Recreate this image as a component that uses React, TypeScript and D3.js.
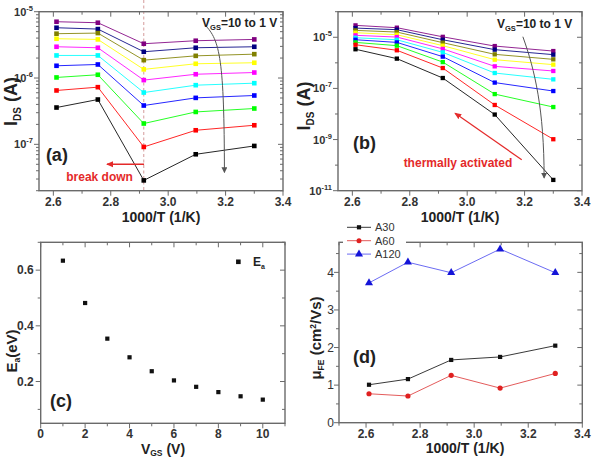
import React from 'react';
import * as d3 from 'd3';

const FONT = '"Liberation Sans", Arial, Helvetica, sans-serif';
const AX = '#6a6a6a';
const TXT = '#222';
const RED = '#e42a2a';

// shared x values: 1000/T (1/K)
const invTemp = [2.611, 2.755, 2.915, 3.096, 3.3];
// V_GS series, 10 V to 1 V
const vgsNames = ['10', '9', '8', '7', '6', '5', '4', '3', '2', '1'];
const vgsColors = ['#800080', '#000080', '#808000', '#ffff00', '#ff00ff', '#00ffff', '#0000ff', '#00ff00', '#ff0000', '#000000'];

// panel (a) I_DS (A)
const aV10 = [7.06e-6, 6.82e-6, 3.29e-6, 3.65e-6, 3.82e-6];
const aV9 = [5.73e-6, 5.47e-6, 2.49e-6, 2.86e-6, 2.96e-6];
const aV8 = [4.66e-6, 4.76e-6, 1.86e-6, 2.16e-6, 2.29e-6];
const aV7 = [3.91e-6, 3.82e-6, 1.35e-6, 1.64e-6, 1.7e-6];
const aV6 = [2.96e-6, 2.86e-6, 9.3e-7, 1.14e-6, 1.21e-6];
const aV5 = [2.19e-6, 2.19e-6, 6.04e-7, 7.8e-7, 8.36e-7];
const aV4 = [1.53e-6, 1.6e-6, 3.85e-7, 5.02e-7, 5.45e-7];
const aV3 = [1.02e-6, 1.12e-6, 2.06e-7, 3.08e-7, 3.47e-7];
const aV2 = [6.49e-7, 7.28e-7, 9.14e-8, 1.63e-7, 1.94e-7];
const aV1 = [3.59e-7, 4.74e-7, 2.86e-8, 7.08e-8, 9.46e-8];
const panelA = [aV10, aV9, aV8, aV7, aV6, aV5, aV4, aV3, aV2, aV1];

// panel (b) I_DS (A)
const bV10 = [2.92e-5, 2.37e-5, 1.04e-5, 4.53e-6, 2.89e-6];
const bV9 = [2.29e-5, 1.98e-5, 8.0e-6, 3.28e-6, 2.09e-6];
const bV8 = [1.86e-5, 1.6e-5, 6.15e-6, 2.15e-6, 1.37e-6];
const bV7 = [1.51e-5, 1.26e-5, 4.7e-6, 1.33e-6, 8.5e-7];
const bV6 = [1.19e-5, 1.02e-5, 3.52e-6, 7.3e-7, 4.8e-7];
const bV5 = [9.6e-6, 8.0e-6, 2.57e-6, 4.0e-7, 2.26e-7];
const bV4 = [8.0e-6, 6.3e-6, 1.75e-6, 1.69e-7, 7.9e-8];
const bV3 = [6.3e-6, 4.7e-6, 1.07e-6, 6.0e-8, 1.87e-8];
const bV2 = [5.1e-6, 3.1e-6, 6.27e-7, 2.25e-8, 1.03e-9];
const bV1 = [3.4e-6, 1.46e-6, 2.55e-7, 9.5e-9, 2.64e-11];
const panelB = [bV10, bV9, bV8, bV7, bV6, bV5, bV4, bV3, bV2, bV1];

// panel (c)
const vgsValues = [1, 2, 3, 4, 5, 6, 7, 8, 9, 10];
const eaValues = [0.634, 0.482, 0.354, 0.287, 0.237, 0.204, 0.181, 0.162, 0.147, 0.135];

// panel (d)
const deviceNames = ['A30', 'A60', 'A120'];
const muA30 = [1.01, 1.16, 1.67, 1.75, 2.05];
const muA60 = [0.77, 0.71, 1.26, 0.92, 1.31];
const muA120 = [3.72, 4.27, 3.99, 4.62, 3.99];

// scales
const xa = d3.scaleLinear().domain([2.55, 3.4]).range([39, 283]);
const ya = d3.scaleLog().domain([2e-8, 1e-5]).range([190.7, 11.7]);
const xb = d3.scaleLinear().domain([2.55, 3.4]).range([338, 582]);
const yb = d3.scaleLog().domain([1e-11, 1e-4]).range([190.7, 11.7]);
const xc = d3.scaleLinear().domain([0, 11]).range([40.7, 285]);
const yc = d3.scaleLinear().domain([0.05, 0.7]).range([423.3, 242.3]);
const xd = d3.scaleLinear().domain([2.5, 3.4]).range([339, 582.3]);
const yd = d3.scaleLinear().domain([0, 4.8]).range([422.7, 242.3]);

const tTicks = [2.6, 2.8, 3.0, 3.2, 3.4];
const tMinor = [2.7, 2.9, 3.1, 3.3];

function logMinor(lo: number, hi: number) {
  const out: number[] = [];
  for (let d = lo; d < hi; d++) for (let k = 2; k <= 9; k++) out.push(k * Math.pow(10, d));
  return out;
}

const logLabel = (v: number) => (
  <>
    10<tspan dy={-5} fontSize={7.5}>{Math.round(Math.log10(v))}</tspan>
  </>
);

type FrameProps = {
  x: any; y: any;
  xMajor: number[]; xMinor: number[];
  yMajor: number[]; yMinor: number[];
  xFmt: (v: number) => string;
  yLabelValues: number[];
  yFmt: (v: number) => React.ReactNode;
  ySize: number; yBold: boolean; yGap: number;
};

function Frame(p: FrameProps) {
  const [l, r] = p.x.range();
  const [b, t] = p.y.range();
  const M = 5, m = 3;
  const els: React.ReactNode[] = [];
  p.xMajor.forEach((v, i) => {
    const px = p.x(v);
    els.push(<line key={'xb' + i} x1={px} x2={px} y1={b} y2={b + M} />);
    els.push(<line key={'xt' + i} x1={px} x2={px} y1={t} y2={t + M} />);
  });
  p.xMinor.forEach((v, i) => {
    const px = p.x(v);
    els.push(<line key={'xbm' + i} x1={px} x2={px} y1={b} y2={b + m} />);
    els.push(<line key={'xtm' + i} x1={px} x2={px} y1={t} y2={t + m} />);
  });
  p.yMajor.forEach((v, i) => {
    const py = p.y(v);
    els.push(<line key={'yl' + i} x1={l - M} x2={l} y1={py} y2={py} />);
    els.push(<line key={'yr' + i} x1={r - M} x2={r} y1={py} y2={py} />);
  });
  p.yMinor.forEach((v, i) => {
    const py = p.y(v);
    els.push(<line key={'ylm' + i} x1={l - m} x2={l} y1={py} y2={py} />);
    els.push(<line key={'yrm' + i} x1={r - m} x2={r} y1={py} y2={py} />);
  });
  return (
    <g>
      <g stroke={AX} strokeWidth={1}>{els}</g>
      <rect x={l} y={t} width={r - l} height={b - t} fill="none" stroke={AX} strokeWidth={1.4} />
      <g fontFamily={FONT} fontSize={12} fontWeight="bold" fill="#333" textAnchor="middle">
        {p.xMajor.map((v, i) => (
          <text key={i} x={p.x(v)} y={b + 15}>{p.xFmt(v)}</text>
        ))}
      </g>
      <g fontFamily={FONT} fontSize={p.ySize} fontWeight={p.yBold ? 'bold' : 'normal'} fill="#333" textAnchor="end">
        {p.yLabelValues.map((v, i) => (
          <text key={i} x={l - p.yGap} y={p.y(v) + p.ySize * 0.36}>{p.yFmt(v)}</text>
        ))}
      </g>
    </g>
  );
}

function Squares({ xs, ys, x, y, color, size }: any) {
  return (
    <g fill={color}>
      {ys.map((v: number, i: number) => (
        <rect key={i} x={x(xs[i]) - size / 2} y={y(v) - size / 2} width={size} height={size} />
      ))}
    </g>
  );
}

function Curve({ ys, x, y, color, width = 1, opacity = 0.85 }: any) {
  const gen = d3.line<number>().x((_, i) => x(invTemp[i])).y((v) => y(v));
  return <path d={gen(ys) || ''} fill="none" stroke={color} strokeWidth={width} strokeOpacity={opacity} />;
}

function bezier(x: any, y: any, pts: number[][]) {
  const p = d3.path();
  p.moveTo(x(pts[0][0]), y(pts[0][1]));
  p.bezierCurveTo(x(pts[1][0]), y(pts[1][1]), x(pts[2][0]), y(pts[2][1]), x(pts[3][0]), y(pts[3][1]));
  return p.toString();
}

// annotation anchor points (data coordinates)
const arrowA = [[3.128, 6.3e-6], [3.181, 3.74e-6], [3.195, 1.86e-6], [3.196, 3.8e-8]];
const arrowB = [[3.194, 1.05e-5], [3.236, 5.3e-7], [3.268, 1.45e-8], [3.268, 3.2e-11]];
const breakArrow = [[2.916, 5.0e-8], [2.787, 5.0e-8]];
const thermalArrow = [[3.19, 1.62e-10], [2.958, 1.07e-8]];

export default function App() {
  const sq = 4.6;
  const tri = d3.symbol(d3.symbolTriangle).size(28)();
  return (
    <svg width={594} height={458} style={{ position: 'absolute', left: 0, top: 0, background: '#fff' }}>
      <defs>
        <marker id="ahg" markerUnits="userSpaceOnUse" markerWidth={6} markerHeight={6} refX={5} refY={3} orient="auto">
          <path d="M0,0 L6,3 L0,6 z" fill="#555" />
        </marker>
        <marker id="ahr" markerUnits="userSpaceOnUse" markerWidth={7} markerHeight={7} refX={6} refY={3.5} orient="auto">
          <path d="M0,0.5 L7,3.5 L0,6.5 z" fill={RED} />
        </marker>
      </defs>
      <rect width={594} height={458} fill="#fff" />

      {/* ---------- Panel (a) ---------- */}
      <line x1={xa(2.915)} x2={xa(2.915)} y1={0} y2={ya.range()[0]} stroke="#d49a9a" strokeWidth={1} strokeDasharray="3,2.5" />
      <Frame
        x={xa} y={ya}
        xMajor={tTicks} xMinor={tMinor}
        yMajor={[1e-7, 1e-6, 1e-5]} yMinor={logMinor(-8, -5).filter((v) => v >= 2e-8 && v <= 1e-5)}
        xFmt={(v) => v.toFixed(1)}
        yLabelValues={[1e-7, 1e-6, 1e-5]} yFmt={logLabel}
        ySize={11} yBold={true} yGap={6}
      />
      {panelA.map((s, i) => (
        <g key={'a' + i}>
          <Curve ys={s} x={xa} y={ya} color={vgsColors[i]} />
          <Squares xs={invTemp} ys={s} x={xa} y={ya} color={vgsColors[i]} size={sq} />
        </g>
      ))}
      <path d={bezier(xa, ya, arrowA)} fill="none" stroke="#555" strokeWidth={1} markerEnd="url(#ahg)" />
      <line x1={xa(breakArrow[0][0])} y1={ya(breakArrow[0][1])} x2={xa(breakArrow[1][0])} y2={ya(breakArrow[1][1])} stroke={RED} strokeWidth={1.4} markerEnd="url(#ahr)" />
      <text x={xa(2.761)} y={ya(3.18e-8) + 4} fontFamily={FONT} fontSize={12} fontWeight="bold" fill={RED} textAnchor="middle">break down</text>
      <text x={xa(3.118)} y={ya(6.75e-6) + 4} fontFamily={FONT} fontSize={12} fontWeight="bold" fill={TXT}>
        V<tspan fontSize={7.5} dy={3}>GS</tspan><tspan dy={-3}>=10 to 1 V</tspan>
      </text>
      <text x={xa(2.574)} y={ya(6.8e-8) + 6} fontFamily={FONT} fontSize={18} fontWeight="bold" fill={TXT}>(a)</text>
      <text transform={`translate(17,101.5) rotate(-90)`} fontFamily={FONT} fontSize={18} fontWeight="bold" fill={TXT} textAnchor="middle">
        I<tspan fontSize={10} dy={4}>DS</tspan><tspan dy={-4}> (A)</tspan>
      </text>
      <text x={(xa.range()[0] + xa.range()[1]) / 2} y={221.5} fontFamily={FONT} fontSize={14} fontWeight="bold" fill={TXT} textAnchor="middle">1000/T (1/K)</text>

      {/* ---------- Panel (b) ---------- */}
      <Frame
        x={xb} y={yb}
        xMajor={tTicks} xMinor={tMinor}
        yMajor={[1e-11, 1e-9, 1e-7, 1e-5]} yMinor={[1e-10, 1e-8, 1e-6, 1e-4]}
        xFmt={(v) => v.toFixed(1)}
        yLabelValues={[1e-11, 1e-9, 1e-7, 1e-5]} yFmt={logLabel}
        ySize={11} yBold={true} yGap={6}
      />
      {panelB.map((s, i) => (
        <g key={'b' + i}>
          <Curve ys={s} x={xb} y={yb} color={vgsColors[i]} />
          <Squares xs={invTemp} ys={s} x={xb} y={yb} color={vgsColors[i]} size={4.3} />
        </g>
      ))}
      <path d={bezier(xb, yb, arrowB)} fill="none" stroke="#555" strokeWidth={1} markerEnd="url(#ahg)" />
      <line x1={xb(thermalArrow[0][0])} y1={yb(thermalArrow[0][1])} x2={xb(thermalArrow[1][0])} y2={yb(thermalArrow[1][1])} stroke={RED} strokeWidth={1.2} markerEnd="url(#ahr)" />
      <text x={xb(2.968)} y={yb(1.26e-10) + 4} fontFamily={FONT} fontSize={12} fontWeight="bold" fill={RED} textAnchor="middle">thermally activated</text>
      <text x={xb(3.104)} y={yb(3.3e-5) + 4} fontFamily={FONT} fontSize={12} fontWeight="bold" fill={TXT}>
        V<tspan fontSize={7.5} dy={3}>GS</tspan><tspan dy={-3}>=10 to 1 V</tspan>
      </text>
      <text x={xb(2.602)} y={yb(7.2e-10) + 6} fontFamily={FONT} fontSize={18} fontWeight="bold" fill={TXT}>(b)</text>
      <text transform={`translate(310,106) rotate(-90)`} fontFamily={FONT} fontSize={18} fontWeight="bold" fill={TXT} textAnchor="middle">
        I<tspan fontSize={10} dy={4}>DS</tspan><tspan dy={-4}> (A)</tspan>
      </text>
      <text x={(xb.range()[0] + xb.range()[1]) / 2} y={221.5} fontFamily={FONT} fontSize={14} fontWeight="bold" fill={TXT} textAnchor="middle">1000/T (1/K)</text>

      {/* ---------- Panel (c) ---------- */}
      <Frame
        x={xc} y={yc}
        xMajor={[0, 2, 4, 6, 8, 10]} xMinor={[1, 3, 5, 7, 9, 11]}
        yMajor={[0.2, 0.4, 0.6]} yMinor={[0.1, 0.3, 0.5, 0.7]}
        xFmt={(v) => String(v)}
        yLabelValues={[0.2, 0.4, 0.6]} yFmt={(v) => v.toFixed(1)}
        ySize={12} yBold={true} yGap={7}
      />
      <g fill="#111">
        {eaValues.map((v, i) => (
          <rect key={i} x={xc(vgsValues[i]) - 2.1} y={yc(v) - 2.1} width={4.2} height={4.2} />
        ))}
      </g>
      <rect x={xc(8.9) - 2.3} y={yc(0.63) - 2.3} width={4.6} height={4.6} fill="#111" />
      <text x={xc(9.56)} y={yc(0.63) + 4} fontFamily={FONT} fontSize={12} fontWeight="bold" fill={TXT}>
        E<tspan fontSize={7} dy={3}>a</tspan>
      </text>
      <text x={xc(0.42)} y={yc(0.131) + 6} fontFamily={FONT} fontSize={18} fontWeight="bold" fill={TXT}>(c)</text>
      <text transform={`translate(17,351) rotate(-90)`} fontFamily={FONT} fontSize={15} fontWeight="bold" fill={TXT} textAnchor="middle">
        E<tspan fontSize={8.5} dy={3}>a</tspan><tspan dy={-3}>(eV)</tspan>
      </text>
      <text x={163} y={454} fontFamily={FONT} fontSize={14} fontWeight="bold" fill={TXT} textAnchor="middle">
        V<tspan fontSize={8.5} dy={2}>GS</tspan><tspan dy={-2}> (V)</tspan>
      </text>

      {/* ---------- Panel (d) ---------- */}
      <Frame
        x={xd} y={yd}
        xMajor={tTicks} xMinor={[2.5, ...tMinor]}
        yMajor={[0, 1, 2, 3, 4]} yMinor={[0.5, 1.5, 2.5, 3.5, 4.5]}
        xFmt={(v) => v.toFixed(1)}
        yLabelValues={[0, 1, 2, 3, 4]} yFmt={(v) => String(v)}
        ySize={12} yBold={false} yGap={5}
      />
      <Curve ys={muA120} x={xd} y={yd} color="#5a5af0" width={0.9} opacity={1} />
      <Curve ys={muA60} x={xd} y={yd} color="#e04848" width={0.9} opacity={1} />
      <Curve ys={muA30} x={xd} y={yd} color="#222" width={0.9} opacity={1} />
      <Squares xs={invTemp} ys={muA30} x={xd} y={yd} color="#111" size={4.2} />
      <g fill="#e02020">
        {muA60.map((v, i) => <circle key={i} cx={xd(invTemp[i])} cy={yd(v)} r={2.6} />)}
      </g>
      <g fill="#1414d8">
        {muA120.map((v, i) => <path key={i} d={tri || ''} transform={`translate(${xd(invTemp[i])},${yd(v)})`} />)}
      </g>
      {/* legend */}
      <rect x={343} y={222} width={63} height={38} fill="#fff" />
      {deviceNames.map((n, i) => {
        const ly = 227.3 + i * 13.4;
        const col = ['#111', '#e02020', '#1414d8'][i];
        const lcol = ['#222', '#e04848', '#5a5af0'][i];
        return (
          <g key={n}>
            <line x1={347} x2={371} y1={ly} y2={ly} stroke={lcol} strokeWidth={0.9} />
            {i === 0 && <rect x={359 - 2.1} y={ly - 2.1} width={4.2} height={4.2} fill={col} />}
            {i === 1 && <circle cx={359} cy={ly} r={2.5} fill={col} />}
            {i === 2 && <path d={tri || ''} transform={`translate(359,${ly})`} fill={col} />}
            <text x={375} y={ly + 4} fontFamily={FONT} fontSize={11} fill="#333">{n}</text>
          </g>
        );
      })}
      <text x={xd(2.552)} y={yd(1.74) + 6} fontFamily={FONT} fontSize={18} fontWeight="bold" fill={TXT}>(d)</text>
      <text transform={`translate(321,338) rotate(-90)`} fontFamily={FONT} fontSize={15} fontWeight="bold" fill={TXT} textAnchor="middle">
        μ<tspan fontSize={8.5} dy={3}>FE</tspan><tspan dy={-3}> (cm</tspan><tspan fontSize={8.5} dy={-5}>2</tspan><tspan dy={5}>/Vs)</tspan>
      </text>
      <text x={465} y={453} fontFamily={FONT} fontSize={14} fontWeight="bold" fill={TXT} textAnchor="middle">1000/T (1/K)</text>
    </svg>
  );
}
